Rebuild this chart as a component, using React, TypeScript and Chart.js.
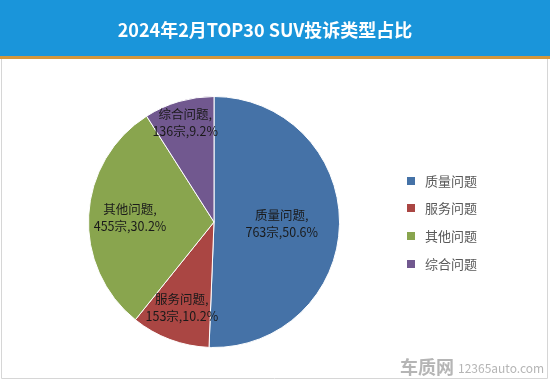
import React, { useEffect, useRef } from "react";
import { Chart, registerables } from "chart.js";

Chart.register(...registerables);

const TITLE = "2024年2月TOP30 SUV投诉类型占比";
const categories = ["质量问题", "服务问题", "其他问题", "综合问题"];
const counts = [763, 153, 455, 136];
const percentLabels = ["50.6%", "10.2%", "30.2%", "9.2%"];
const colors = ["#4572A7", "#AA4643", "#89A54E", "#71588F"];

const CJK = '"Noto Sans CJK SC", "Noto Sans", sans-serif';
const labelRadius = [0.54, 0.73, 0.67, 0.82];

const framePlugin = {
  id: "frame",
  beforeDraw(chart: any) {
    const { ctx, width, height } = chart;
    ctx.save();
    ctx.fillStyle = "#ffffff";
    ctx.fillRect(0, 0, width, height);
    ctx.fillStyle = "#1a95da";
    ctx.fillRect(0, 0, width, 56);
    ctx.fillStyle = "#d4973c";
    ctx.fillRect(0, 56, width, 3);
    ctx.strokeStyle = "#d6d6d6";
    ctx.lineWidth = 1;
    ctx.beginPath();
    ctx.moveTo(1.5, 59);
    ctx.lineTo(1.5, height - 1.5);
    ctx.lineTo(width - 2.5, height - 1.5);
    ctx.lineTo(width - 2.5, 59);
    ctx.stroke();
    ctx.fillStyle = "#ffffff";
    ctx.font = `bold 18px ${CJK}`;
    ctx.textAlign = "center";
    ctx.textBaseline = "middle";
    ctx.fillText(TITLE, 265, 30);
    ctx.restore();
  },
  afterDraw(chart: any) {
    const { ctx } = chart;
    ctx.save();
    // legend
    const ys = [181, 208, 236, 264];
    ctx.font = `13px ${CJK}`;
    ctx.textBaseline = "middle";
    ctx.textAlign = "left";
    categories.forEach((c, i) => {
      ctx.fillStyle = colors[i];
      ctx.fillRect(407, ys[i] - 4, 8, 8);
      ctx.fillStyle = "#595959";
      ctx.fillText(c, 425, ys[i]);
    });
    // watermark
    ctx.fillStyle = "#b5b5b5";
    ctx.font = `bold 18px ${CJK}`;
    ctx.fillText("车质网", 400, 367);
    ctx.font = `12px ${CJK}`;
    ctx.fillText("12365auto.com", 458, 368);
    ctx.restore();
  },
  afterDatasetsDraw(chart: any) {
    const { ctx } = chart;
    const meta = chart.getDatasetMeta(0);
    ctx.save();
    ctx.font = `12.5px ${CJK}`;
    ctx.fillStyle = "#1a1a1a";
    ctx.textAlign = "center";
    ctx.textBaseline = "middle";
    meta.data.forEach((arc: any, i: number) => {
      const { x, y, startAngle, endAngle, outerRadius } = arc.getProps(
        ["x", "y", "startAngle", "endAngle", "outerRadius"],
        true
      );
      const mid = (startAngle + endAngle) / 2;
      const r = outerRadius * labelRadius[i];
      const cx = x + Math.cos(mid) * r;
      const cy = y + Math.sin(mid) * r;
      ctx.fillText(categories[i] + ",", cx, cy - 8.5);
      ctx.fillText(`${counts[i]}宗,${percentLabels[i]}`, cx, cy + 8.5);
    });
    ctx.restore();
  },
};

export default function App() {
  const ref = useRef<HTMLCanvasElement>(null);
  useEffect(() => {
    document.body.style.margin = "0";
    const chart = new Chart(ref.current as HTMLCanvasElement, {
      type: "pie",
      data: {
        labels: categories,
        datasets: [
          {
            data: counts,
            backgroundColor: colors,
            borderColor: "#ffffff",
            borderWidth: 1,
          },
        ],
      },
      options: {
        animation: false,
        responsive: false,
        devicePixelRatio: 1,
        layout: { padding: { left: 88, top: 96, right: 210, bottom: 32 } },
        plugins: {
          legend: { display: false },
          title: { display: false },
          tooltip: { enabled: false },
        },
      },
      plugins: [framePlugin],
    });
    return () => chart.destroy();
  }, []);
  return (
    <canvas
      ref={ref}
      width={550}
      height={380}
      style={{ display: "block", width: 550, height: 380 }}
    />
  );
}
